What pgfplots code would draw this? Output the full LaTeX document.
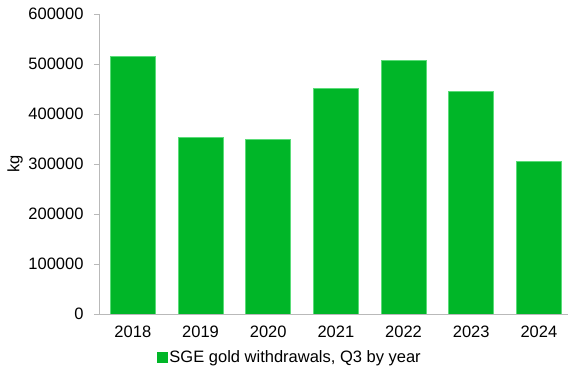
\documentclass[border=0pt]{standalone}
\usepackage{fontspec}
\setmainfont{Liberation Sans}
\usepackage{pgfplots}
\pgfplotsset{compat=1.18}
\definecolor{bargreen}{RGB}{0,182,40}
\definecolor{baredge}{RGB}{90,220,120}
\definecolor{axgray}{RGB}{185,185,185}
\newcommand{\ff}{\fontsize{16.5bp}{19bp}\selectfont}
\begin{document}
\begin{tikzpicture}
\begin{axis}[
  at={(0,0)}, anchor=south west,
  scale only axis,
  width=469bp, height=300bp,
  xmin=-0.5, xmax=6.43,
  ymin=0, ymax=600000,
  axis x line*=bottom, axis y line*=left,
  axis line style={draw=axgray, line width=0.8pt},
  every tick/.style={draw=axgray, line width=0.8pt},
  tick align=outside,
  major tick length=5bp,
  xtick={0,1,2,3,4,5,6},
  xticklabels={2018,2019,2020,2021,2022,2023,2024},
  x tick style={draw=none},
  extra x ticks={-0.5,0.5,1.5,2.5,3.5,4.5,5.5},
  extra x tick labels={},
  extra x tick style={tick style={draw=axgray, line width=0.8pt}},
  ytick={0,100000,200000,300000,400000,500000,600000},
  scaled y ticks=false,
  yticklabel style={/pgf/number format/fixed, /pgf/number format/1000 sep={}, xshift=-7bp},
  /pgf/number format/assume math mode=true,
  tick label style={font=\ff, text=black},
  xticklabel style={yshift=-3bp},
  ylabel={kg},
  ylabel style={font=\ff, at={(axis description cs:-0.179,0.5)}, anchor=center},
  legend style={at={(axis description cs:0.407,-0.143)}, anchor=center, draw=none, font=\ff, fill=none},
  ybar, bar width=45bp, bar shift=0pt,
]
\addplot[fill=bargreen, draw=baredge, line width=0.5pt,
  legend image code/.code={\fill[bargreen] (0bp,-5bp) rectangle (10bp,5bp);}] coordinates {
 (0,516000) (1,354000) (2,349000) (3,451000) (4,507000) (5,445000) (6,306000)
};
\addlegendentry{SGE gold withdrawals, Q3 by year}
\end{axis}
\pgfresetboundingbox
\path[use as bounding box] (-99bp,-59bp) rectangle (469bp,314bp);
\end{tikzpicture}
\end{document}
